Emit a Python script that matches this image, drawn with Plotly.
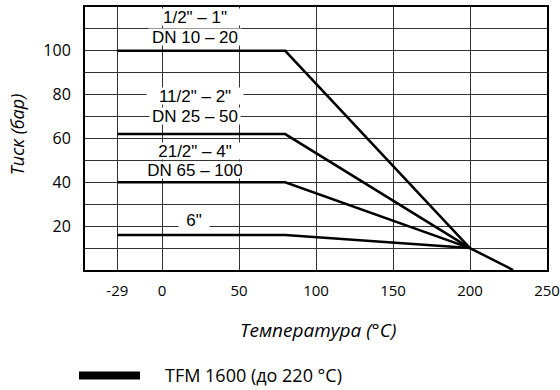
import plotly.graph_objects as go

# Pressure–temperature rating curves (TFM 1600)
temp_points = [-29, 80, 200]
pressure_10_20 = [100, 100, 10]
pressure_25_50 = [62, 62, 10]
pressure_65_100 = [40, 40, 10]
pressure_6in = [16, 16, 10]
tail_temp = [200, 228]
tail_pressure = [10, 0]

x_tickvals = [-29, 0, 50, 100, 150, 200, 250]
x_ticktext = ["-29", "0", "50", "100", "150", "200", "250"]
y_tickvals = [10, 20, 30, 40, 50, 60, 70, 80, 90, 100, 110]
y_ticktext = ["", "20", "", "40", "", "60", "", "80", "", "100", ""]

labels_text = ['1/2" – 1"', "DN 10 – 20", '11/2" – 2"', "DN 25 – 50",
               '21/2" – 4"', "DN 65 – 100", '6"']
labels_x = [21.5, 21.5, 21.5, 21.5, 21.5, 21.5, 21.1]
labels_y = [115.4, 106.3, 79.2, 70.1, 54.1, 45.8, 22.9]
labels_box_w = [100, 92, 96, 90, 96, 94, 30]

legend_name = "TFM 1600 (до 220 °C)"
x_title = "Температура (°C)"
y_title = "Тиск (бар)"

fig = go.Figure()
for ys in [pressure_10_20, pressure_25_50, pressure_65_100, pressure_6in]:
    fig.add_trace(go.Scatter(x=temp_points, y=ys, mode="lines",
                             line=dict(color="black", width=2.5),
                             showlegend=False, hoverinfo="skip"))
fig.add_trace(go.Scatter(x=tail_temp, y=tail_pressure, mode="lines",
                         line=dict(color="black", width=2.5),
                         showlegend=False, hoverinfo="skip"))

for t, xx, yy, bw in zip(labels_text, labels_x, labels_y, labels_box_w):
    fig.add_annotation(x=xx, y=yy, text=t, showarrow=False,
                       font=dict(family="Liberation Sans, Arial", size=17, color="black"),
                       bgcolor="white", borderpad=0, width=bw, height=16,
                       align="center", xanchor="center", yanchor="middle")

fig.update_xaxes(range=[-50, 250], tickvals=x_tickvals, ticktext=x_ticktext,
                 showgrid=True, gridcolor="#333", gridwidth=1,
                 showline=True, linecolor="black", linewidth=2, mirror=True,
                 ticks="", ticklabelstandoff=6,
                 tickfont=dict(family="Open Sans", size=15, color="black"),
                 zeroline=False, automargin=False, ticklabeloverflow="allow")
fig.update_yaxes(range=[0, 120], tickvals=y_tickvals, ticktext=y_ticktext,
                 showgrid=True, gridcolor="#333", gridwidth=1,
                 showline=True, linecolor="black", linewidth=2, mirror=True,
                 ticks="", ticklabelstandoff=9,
                 tickfont=dict(family="Open Sans", size=16, color="black"),
                 zeroline=False, automargin=False)

fig.add_annotation(xref="paper", yref="paper", x=0.504, y=-0.228, text="<i>" + x_title + "</i>",
                   showarrow=False, font=dict(family="Open Sans", size=19, color="black"),
                   xanchor="center", yanchor="middle")
fig.add_annotation(xref="paper", yref="paper", x=-0.147, y=0.513, text="<i>" + y_title + "</i>",
                   showarrow=False, font=dict(family="Open Sans", size=18, color="black"),
                   textangle=-90, xanchor="center", yanchor="middle")

# legend swatch and text
fig.add_shape(type="line", xref="paper", yref="paper", x0=-0.013, x1=0.119,
              y0=-0.4011, y1=-0.4011, line=dict(color="black", width=8))
fig.add_annotation(xref="paper", yref="paper", x=0.168, y=-0.4011, text=legend_name,
                   showarrow=False, font=dict(family="Open Sans", size=18, color="black"),
                   xanchor="left", yanchor="middle")

fig.update_layout(width=560, height=390, margin=dict(l=85, r=13, t=7, b=120),
                  plot_bgcolor="white", paper_bgcolor="white", showlegend=False,
                  hovermode=False)
fig.write_html("out.html", config={"displayModeBar": False, "staticPlot": True},
               post_script="document.body.style.margin='0';document.body.style.overflow='hidden';")
